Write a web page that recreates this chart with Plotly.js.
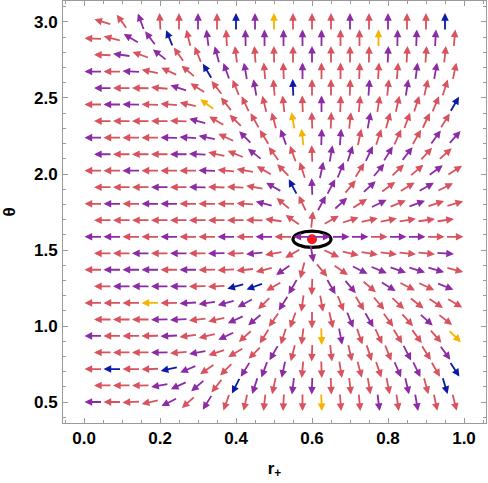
<!DOCTYPE html>
<html>
<head>
<meta charset="utf-8">
<script src="https://cdn.plot.ly/plotly-3.0.1.min.js"></script>
<style>
  html, body { margin: 0; padding: 0; background: #fff; }
  #chart { width: 488px; height: 483px; }
</style>
</head>
<body>
<div id="chart"></div>
<script>
// ── Normalised vector field (r+, theta) ──────────────────────────────────────
// Rows run from theta = 3.0 (top) down to 0.5 (bottom). Even rows sit on
// R_EVEN, odd rows on the staggered R_ODD columns.
const THETA = [3.000, 2.891, 2.783, 2.674, 2.565, 2.457, 2.348, 2.239,
               2.130, 2.022, 1.913, 1.804, 1.696, 1.587, 1.478, 1.370,
               1.261, 1.152, 1.043, 0.935, 0.826, 0.717, 0.609, 0.500];
const R_EVEN = [0.05, 0.10, 0.15, 0.20, 0.25, 0.30, 0.35, 0.40, 0.45, 0.50,
                0.55, 0.60, 0.65, 0.70, 0.75, 0.80, 0.85, 0.90, 0.95];
const R_ODD  = [0.025, 0.075, 0.125, 0.175, 0.225, 0.275, 0.325, 0.375, 0.425, 0.475,
                0.525, 0.575, 0.625, 0.675, 0.725, 0.775, 0.825, 0.875, 0.925, 0.975];

// arrow direction in degrees (0 = +r, 90 = +theta), one list per row
const ANGLE = [
  [163,126,110,93,90,90,90,90,90,90,90,90,90,90,90,90,90,90,90],
  [178,166,150,127,112,104,97,93,91,90,90,90,90,90,90,90,89,88,87,85],
  [178,172,160,142,125,112,105,97,94,91,90,90,90,90,89,88,87,86,84],
  [180,180,177,168,155,140,121,110,100,95,92,90,90,90,88,87,85,83,80,78],
  [180,180,179,175,162,148,128,112,100,95,92,90,90,88,86,84,81,77,72],
  [180,180,179,178,175,167,144,128,115,104,96,92,90,88,85,81,77,72,67,60],
  [180,180,180,180,178,165,150,135,120,105,100,92,88,84,80,75,70,65,58],
  [180,180,180,180,179,176,168,155,135,122,110,97,88,85,78,72,66,60,54,48],
  [180,180,180,180,180,177,168,158,142,126,110,92,80,72,65,58,52,47,42],
  [180,180,180,180,180,180,178,175,170,150,135,108,78,68,58,50,44,40,36,33],
  [180,180,180,180,180,179,178,177,170,150,118,92,62,50,42,36,32,29,27],
  [180,180,180,180,180,180,180,179,176,165,140,115,62,42,32,26,22,20,18,17],
  [180,180,180,180,180,180,180,180,179,172,145,84,30,18,13,11,9,8,8],
  [180,180,180,180,180,180,180,180,180,180,180,180,0,0,0,0,0,0,0,0],
  [180,180,180,180,180,180,181,182,185,190,210,280,335,347,351,353,354,355,356],
  [180,180,180,180,180,180,181,183,186,195,215,255,310,325,333,338,341,343,344,345],
  [180,180,180,180,180,181,183,195,200,210,240,268,300,310,320,328,333,335,338],
  [180,180,180,180,181,183,188,195,208,225,238,262,280,291,301,310,317,322,326,329],
  [180,180,180,181,183,187,193,205,220,235,250,270,283,292,300,306,312,318,322],
  [180,180,180,181,183,187,193,205,222,238,252,263,272,281,289,295,301,306,311,316],
  [180,180,180,181,185,190,198,210,225,240,256,268,276,283,288,292,297,302,306],
  [180,180,180,182,192,203,215,225,238,250,258,265,272,279,285,289,293,296,300,303],
  [180,180,181,190,205,220,232,243,252,258,263,268,272,276,279,281,283,285,287],
  [180,180,183,193,207,222,238,250,258,264,267,270,272,274,275,277,278,280,282,284],
];

// arrow colour class per arrow: r = red, p = purple, b = blue, y = yellow
const COLOR = [
  'rrprrprbpyrrrprprrb',
  'rrppbrprppppprrypppr',
  'rprprrprrrrprrrprrr',
  'prprrrbpprrprrrrrppr',
  'prrrprrrprbrrrprprr',
  'rpprrryrrrrrprrrrrrb',
  'rrrrrprrrryrrrprrrr',
  'prrrppprprpypprrrrpp',
  'prrrpprrprrrppppprr',
  'rrprrrprrrrrpprprrpr',
  'rrrprprrrpbpprprrpr',
  'rprpprrrrprrpprprprr',
  'rrrrrrrrrrrrrrrrrrr',
  'pprrprrprprpppprpprr',
  'rrprprprprrprrrrrrp',
  'rppprprrrrprrrpppppr',
  'rpppprrbbrprpprprrp',
  'rrryrppppr' + 'prrrrrrrrr',
  'rrrpprrpprrrrpprrpr',
  'prrrprrprrrryprrrrry',
  'rrrprprrrprrrrrrprp',
  'rbrrbprrppprrrrrpprb',
  'rrrppprbprpprrrrprb',
  'prrrprprrrrryrrprprr',
];

// zero point of the field and the small loop drawn round it
const ZERO_R = 0.6, ZERO_THETA = 1.5708;
const LOOP_RX = 0.05, LOOP_RY = 0.054;

// ── Style ────────────────────────────────────────────────────────────────────
const PALETTE  = { r: '#d9535f', p: '#8b2ca6', b: '#0b1ba8', y: '#f6b400' };
const ARROW_PX = 18;
const FONT     = 'Liberation Sans, Arial, sans-serif';
const FRAME    = '#9a9a9a';

const annotations = [];
THETA.forEach((th, i) => {
  const xs = i % 2 === 0 ? R_EVEN : R_ODD;
  xs.forEach((r, j) => {
    const a = ANGLE[i][j] * Math.PI / 180;
    const c = Math.cos(a), s = Math.sin(a);
    annotations.push({
      x: r, y: th, xref: 'x', yref: 'y', text: '', showarrow: true,
      ax: -ARROW_PX * c, ay: ARROW_PX * s,
      xshift: ARROW_PX / 2 * c, yshift: ARROW_PX / 2 * s,
      arrowhead: 2, arrowsize: 0.85, arrowwidth: 1.8, standoff: 0,
      arrowcolor: PALETTE[COLOR[i][j]],
    });
  });
});

const axisBase = {
  showgrid: false, zeroline: false,
  showline: true, linecolor: FRAME, linewidth: 1, mirror: 'allticks',
  ticks: 'inside', ticklen: 5, tickcolor: FRAME, tickwidth: 1,
  tickformat: '.1f',
  tickfont: { family: FONT, size: 17, color: '#000', weight: 'bold' },
};

const layout = {
  width: 488, height: 483,
  paper_bgcolor: '#fff', plot_bgcolor: '#fff',
  margin: { l: 63, r: 2, t: 1, b: 60 },
  showlegend: false,
  xaxis: Object.assign({}, axisBase, {
    range: [-0.0553, 1.0579], dtick: 0.2, tick0: 0,
    minor: { dtick: 0.05, ticks: 'inside', ticklen: 3, tickcolor: FRAME },
    title: { text: 'r<sub>+</sub>', standoff: 14,
             font: { family: FONT, size: 17, color: '#000', weight: 'bold' } },
  }),
  yaxis: Object.assign({}, axisBase, {
    range: [0.362, 3.138], dtick: 0.5, tick0: 0,
    ticklabelstandoff: 1,
    minor: { dtick: 0.1, ticks: 'inside', ticklen: 3, tickcolor: FRAME },
    title: { text: 'θ', standoff: 14,
             font: { family: FONT, size: 17, color: '#000', weight: 'bold' } },
  }),
  shapes: [{
    type: 'circle', xref: 'x', yref: 'y',
    x0: ZERO_R - LOOP_RX, x1: ZERO_R + LOOP_RX,
    y0: ZERO_THETA - LOOP_RY, y1: ZERO_THETA + LOOP_RY,
    line: { color: '#000', width: 3.2 }, layer: 'above',
  }],
  annotations: annotations,
};

const traces = [{
  x: [ZERO_R], y: [ZERO_THETA], type: 'scatter', mode: 'markers',
  marker: { color: '#f41c1c', size: 10 }, hoverinfo: 'skip',
}];

Plotly.newPlot('chart', traces, layout, { staticPlot: true, displayModeBar: false });
</script>
</body>
</html>
